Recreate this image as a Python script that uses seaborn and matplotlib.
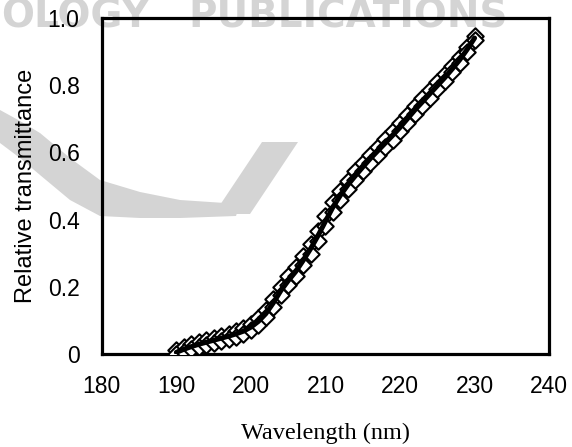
import matplotlib
matplotlib.use("Agg")
import matplotlib.pyplot as plt
import seaborn as sns
import pandas as pd
from matplotlib.patches import Polygon

# ---- data ----
wavelength = [190, 191, 192, 193, 194, 195, 196, 197, 198, 199,
              200, 201, 202, 203, 204, 205, 206, 207, 208, 209,
              210, 211, 212, 213, 214, 215, 216, 217, 218, 219,
              220, 221, 222, 223, 224, 225, 226, 227, 228, 229, 230]
fit_curve = [0.005, 0.014, 0.022, 0.029, 0.035, 0.041, 0.047, 0.053, 0.060, 0.068,
             0.080, 0.097, 0.120, 0.152, 0.188, 0.218, 0.245, 0.278, 0.313, 0.352,
             0.395, 0.437, 0.472, 0.503, 0.530, 0.556, 0.581, 0.604, 0.627, 0.650,
             0.674, 0.700, 0.726, 0.750, 0.774, 0.798, 0.822, 0.848, 0.875, 0.906, 0.940]
measured_a = [0.012, 0.022, 0.030, 0.037, 0.043, 0.049, 0.055, 0.061, 0.068, 0.077,
              0.089, 0.107, 0.131, 0.164, 0.200, 0.231, 0.259, 0.292, 0.328, 0.367,
              0.410, 0.451, 0.486, 0.516, 0.543, 0.568, 0.593, 0.616, 0.639, 0.662,
              0.686, 0.712, 0.737, 0.761, 0.785, 0.809, 0.833, 0.858, 0.884, 0.914, 0.945]
measured_b = [0.000, 0.006, 0.014, 0.021, 0.027, 0.033, 0.039, 0.045, 0.052, 0.060,
              0.071, 0.087, 0.109, 0.140, 0.176, 0.205, 0.231, 0.264, 0.298, 0.337,
              0.380, 0.423, 0.458, 0.490, 0.517, 0.544, 0.569, 0.592, 0.615, 0.638,
              0.662, 0.688, 0.715, 0.739, 0.763, 0.787, 0.811, 0.838, 0.866, 0.898, 0.935]
x_ticks = [180, 190, 200, 210, 220, 230, 240]
y_ticks = [0, 0.2, 0.4, 0.6, 0.8, 1.0]
y_tick_labels = ["0", "0.2", "0.4", "0.6", "0.8", "1.0"]

df = pd.DataFrame({"wl": wavelength, "fit": fit_curve, "a": measured_a, "b": measured_b})

sns.set_theme(style="white")
plt.rcParams["font.family"] = ["Liberation Sans", "DejaVu Sans"]

W, H = 572, 447
fig = plt.figure(figsize=(W / 100, H / 100), dpi=100)

# ---- faint publisher watermark (behind everything) ----
wm = "#d4d4d4"
fig.text(150 / W, 1 - 17 / H, "OLOGY", ha="right", va="center", fontsize=28,
         fontweight="bold", color=wm, family="DejaVu Sans", zorder=0)
fig.text(188 / W, 1 - 17 / H, "PUBLICATIONS", ha="left", va="center", fontsize=28,
         fontweight="bold", color=wm, family="DejaVu Sans", zorder=0)
def fx(p):
    return (p[0] / W, 1 - p[1] / H)
swoosh = [(0, 110), (20, 121), (40, 133), (70, 158), (100, 180), (140, 192),
          (180, 200), (240, 204), (236, 216), (180, 218), (140, 218), (100, 216),
          (70, 200), (40, 175), (20, 158), (0, 143)]
fig.patches.append(Polygon([fx(p) for p in swoosh], closed=True, facecolor=wm,
                           edgecolor="none", transform=fig.transFigure, zorder=0))
fig.patches.append(Polygon([fx(p) for p in [(262, 142), (298, 142), (250, 214), (214, 214)]],
                           closed=True, facecolor=wm, edgecolor="none",
                           transform=fig.transFigure, zorder=0))

ax = fig.add_axes([0.178, 0.208, 0.782, 0.752])
ax.set_zorder(2)
ax.patch.set_alpha(0)

for col in ["a", "b"]:
    sns.scatterplot(data=df, x="wl", y=col, marker="D", s=70, color="white",
                    edgecolor="black", linewidth=1.5, ax=ax, zorder=3)
sns.lineplot(data=df, x="wl", y="fit", color="black", linewidth=3.6, ax=ax, zorder=4)

ax.set_xlim(180, 240)
ax.set_ylim(0, 1.0)
ax.set_xticks(x_ticks)
ax.set_yticks(y_ticks)
ax.set_yticklabels(y_tick_labels)
ax.tick_params(axis="both", direction="in", length=8, width=2, color="black",
               labelsize=16.5, labelcolor="black")
ax.tick_params(axis="x", pad=15)
ax.tick_params(axis="y", pad=16)
for s in ax.spines.values():
    s.set_visible(True)
    s.set_color("black")
    s.set_linewidth(2.3)

ax.set_xlabel("Wavelength (nm)", fontsize=17.5, family="Liberation Serif", labelpad=18, color="black")
ax.set_ylabel("Relative transmittance", fontsize=17, family="Liberation Sans", labelpad=8, color="black")
ax.grid(False)

fig.savefig("out.png", dpi=100)
